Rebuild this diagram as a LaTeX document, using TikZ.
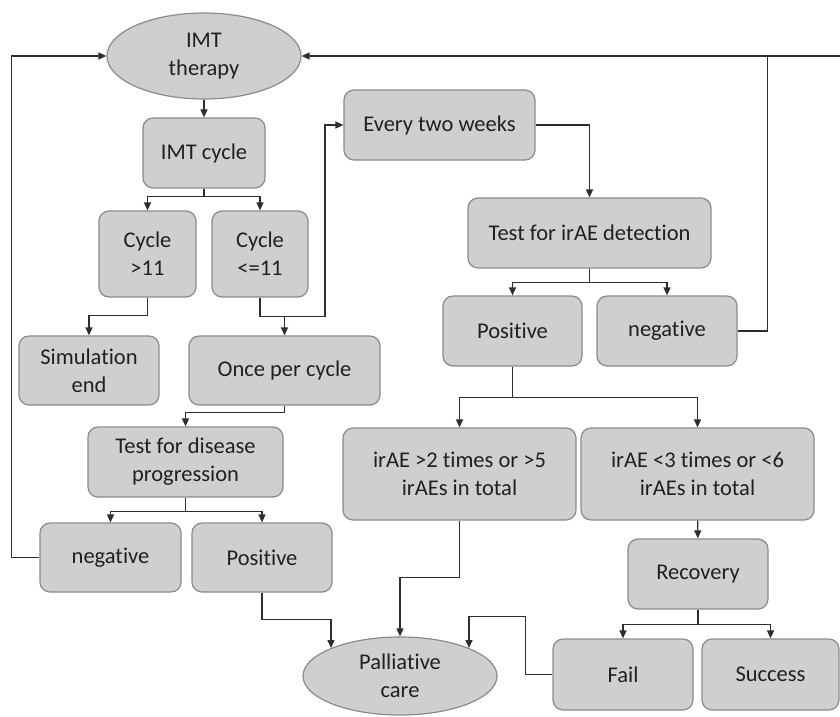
\documentclass[tikz,border=0pt]{standalone}
\usepackage{fontspec}
\setmainfont{Carlito}[RawFeature={-liga;-clig;-calt;-dlig;-ccmp}]
\usetikzlibrary{arrows.meta,shapes.geometric}
\definecolor{boxfill}{HTML}{CFCFCF}
\definecolor{boxline}{HTML}{8A8A8A}
\definecolor{linkcol}{HTML}{2E2E2E}
\definecolor{txtcol}{HTML}{202020}
\begin{document}
\begin{tikzpicture}[x=1pt,y=-1pt,
    box/.style={draw=boxline,fill=boxfill,line width=1.2pt,rounded corners=10pt,
        inner sep=0pt,align=center,text=txtcol,
        font=\fontsize{22.5}{28}\selectfont},
    oval/.style={box,ellipse,rounded corners=0pt},
    link/.style={draw=linkcol,line width=1.4pt},
    arr/.style={link,-{Triangle[length=8pt,width=7pt]}}]
    \useasboundingbox (0,0) rectangle (840,716);
    % left branch
    \node[oval,minimum width=194pt,minimum height=86pt] (ther) at (204,56) {IMT\\therapy};
    \node[box,minimum width=122pt,minimum height=70pt] (cyc) at (204,153) {IMT cycle};
    \node[box,minimum width=97pt,minimum height=86pt] (c1) at (147.5,254) {Cycle\\>11};
    \node[box,minimum width=96pt,minimum height=86pt] (c2) at (260,254) {Cycle\\<=11};
    \node[box,minimum width=140pt,minimum height=69pt] (sim) at (89,370.5) {Simulation\\end};
    \node[box,minimum width=191pt,minimum height=69pt] (once) at (284.5,370.5) {Once per cycle};
    \node[box,minimum width=195pt,minimum height=70pt] (dis) at (185.5,462) {Test for disease\\progression};
    \node[box,minimum width=141pt,minimum height=69pt] (neg1) at (110.5,557.5) {negative};
    \node[box,minimum width=140pt,minimum height=69pt] (pos1) at (262,557.5) {Positive};
    \node[oval,minimum width=194pt,minimum height=78pt] (pal) at (400,676) {Palliative\\care};
    % right branch
    \node[box,minimum width=191pt,minimum height=70pt] (every) at (439.5,125) {Every two weeks};
    \node[box,minimum width=243pt,minimum height=70pt] (irae) at (589.5,233) {Test for irAE detection};
    \node[box,minimum width=139pt,minimum height=70pt] (pos2) at (512.5,331) {Positive};
    \node[box,minimum width=140pt,minimum height=70pt] (neg2) at (667,331) {negative};
    \node[box,minimum width=233pt,minimum height=92pt] (hi) at (459.5,474) {irAE >2 times or >5\\irAEs in total};
    \node[box,minimum width=233pt,minimum height=92pt] (lo) at (697.5,474) {irAE <3 times or <6\\irAEs in total};
    \node[box,minimum width=140pt,minimum height=70pt] (rec) at (698,574) {Recovery};
    \node[box,minimum width=140pt,minimum height=71pt] (fail) at (623,674.5) {Fail};
    \node[box,minimum width=137pt,minimum height=71pt] (succ) at (770.5,674.5) {Success};
    \coordinate (redge) at (840,56);

    \draw[arr] (ther) -- (cyc);
    \draw[arr] (cyc.south) -- ++(0,8) -| (c1.north);
    \draw[arr] (cyc.south) -- ++(0,8) -| (c2.north);
    \draw[arr] (c1.south) -- ++(0,18) -| (sim.north);
    \draw[arr] (c2.south) -- ++(0,19) -| (once.north);
    \draw[arr] (c2.south) -- ++(0,19) -- ++(65,0) |- (every.west);
    \draw[arr] (once.south) -- ++(0,7) -| (dis.north);
    \draw[arr] (dis.south) -- ++(0,14) -| (neg1.north);
    \draw[arr] (dis.south) -- ++(0,14) -| (pos1.north);
    \draw[arr] (neg1.west) -- ++(-28,0) |- (ther.west);
    \draw[arr] (pos1.south) -- ++(0,27) -| (pal.north west);

    \draw[arr] (every.east) -| (irae.north);
    \draw[arr] (irae.south) -- ++(0,14) -| (pos2.north);
    \draw[arr] (irae.south) -- ++(0,14) -| (neg2.north);
    \draw[link] (neg2.east) -- ++(30,0) |- (redge);
    \draw[arr] (redge) -- (ther.east);
    \draw[arr] (pos2.south) -- ++(0,31) -| (hi.north);
    \draw[arr] (pos2.south) -- ++(0,31) -| (lo.north);
    \draw[arr] (hi.south) -- ++(0,57) -| (pal.north);
    \draw[arr] (lo) -- (rec);
    \draw[arr] (rec.south) -- ++(0,15) -| (fail.north);
    \draw[arr] (rec.south) -- ++(0,15) -| (succ.north);
    \draw[arr] (fail.west) -- ++(-27,0) -- ++(0,-58) -| (pal.north east);
\end{tikzpicture}
\end{document}
